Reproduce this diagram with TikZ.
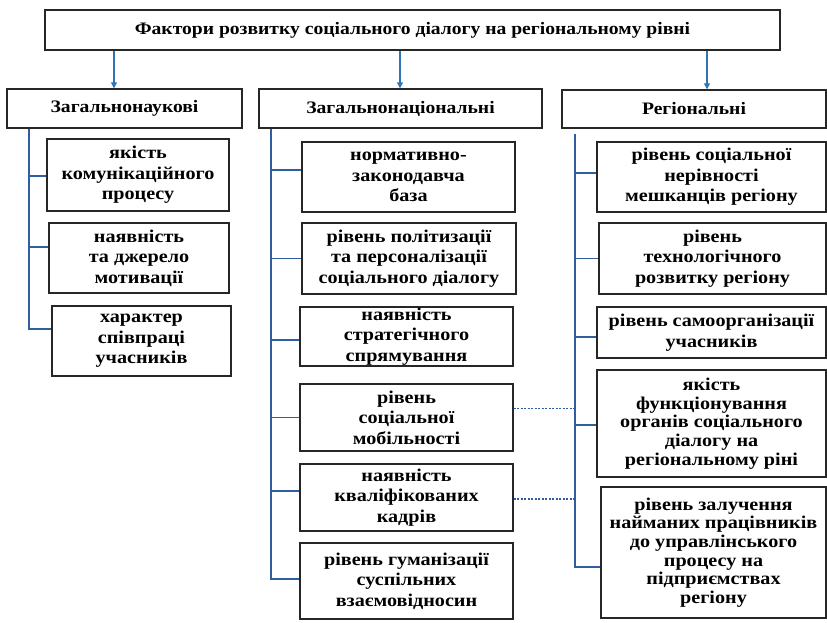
\documentclass[tikz,border=0pt]{standalone}
\usepackage{fontspec}
\setmainfont[FakeStretch=1.12]{Liberation Serif}
\usetikzlibrary{arrows.meta}
\definecolor{linkblue}{RGB}{47,95,160}
\definecolor{arrowblue}{RGB}{46,117,182}
\begin{document}
\begin{tikzpicture}[x=1pt,y=-1pt,
  box/.style={draw=black!85, line width=1.4pt, align=center, inner sep=0pt,
    font=\bfseries\fontsize{18}{20.5}\selectfont},
  tightbox/.style={box, font=\bfseries\fontsize{18}{18.6}\selectfont},
  headbox/.style={box, font=\bfseries\fontsize{17.5}{20}\selectfont},
  arr/.style={draw=arrowblue, line width=1.2pt, -{Triangle[length=6pt,width=6pt]}},
  link/.style={draw=linkblue, line width=1.2pt},
  dotlink/.style={draw=linkblue, line width=1.2pt, dash pattern=on 2pt off 1.5pt}]
\useasboundingbox (0,0) rectangle (827,622);

% top and category boxes
\node[headbox, minimum width=735pt, minimum height=40pt] (top) at (412.5,30) {Фактори розвитку соціального діалогу на регіональному рівні};
\node[headbox, minimum width=235pt, minimum height=39pt] (c1) at (124.5,108.5) {Загальнонаукові};
\node[headbox, minimum width=283pt, minimum height=39pt] (c2) at (400.5,108.5) {Загальнонаціональні};
\node[headbox, minimum width=264pt, minimum height=38pt] (c3) at (694,109) {Регіональні};

\coordinate (a1) at (114,0);
\coordinate (a2) at (400,0);
\coordinate (a3) at (707,0);
\draw[arr] (a1 |- top.south) -- (a1 |- c1.north);
\draw[arr] (a2 |- top.south) -- (a2 |- c2.north);
\draw[arr] (a3 |- top.south) -- (a3 |- c3.north);

% left column
\node[box, minimum width=182pt, minimum height=72pt] (l1) at (138,175) {якість\\комунікаційного\\процесу};
\node[box, minimum width=180pt, minimum height=70pt] (l2) at (139,258) {наявність\\та джерело\\мотивації};
\node[box, minimum width=179pt, minimum height=70pt] (l3) at (141.5,341) {характер\\співпраці\\учасників};

% middle column
\node[box, minimum width=213pt, minimum height=70pt] (m1) at (408.5,177) {нормативно-\\законодавча\\база};
\node[box, minimum width=214pt, minimum height=71pt] (m2) at (409,258.5) {рівень політизації\\та персоналізації\\соціального діалогу};
\node[box, minimum width=213pt, minimum height=59pt] (m3) at (406.5,336.5) {наявність\\стратегічного\\спрямування};
\node[box, minimum width=213pt, minimum height=67pt] (m4) at (406.5,417.5) {рівень\\соціальної\\мобільності};
\node[box, minimum width=213pt, minimum height=67pt] (m5) at (406.5,497.5) {наявність\\кваліфікованих\\кадрів};
\node[box, minimum width=213pt, minimum height=76pt] (m6) at (406.5,581) {рівень гуманізації\\суспільних\\взаємовідносин};

% right column
\node[box, minimum width=229pt, minimum height=70pt] (r1) at (711.5,177) {рівень соціальної\\нерівності\\мешканців регіону};
\node[box, minimum width=227pt, minimum height=71pt] (r2) at (712.5,258.5) {рівень\\технологічного\\розвитку регіону};
\node[box, minimum width=229pt, minimum height=51pt] (r3) at (711.5,332.5) {рівень самоорганізації\\учасників};
\node[tightbox, minimum width=229pt, minimum height=107pt] (r4) at (711.5,423.5) {якість\\функціонування\\органів соціального\\діалогу на\\регіональному ріні};
\node[tightbox, minimum width=225pt, minimum height=131pt] (r5) at (713.5,552.5) {рівень залучення\\найманих працівників\\до управлінського\\процесу на\\підприємствах\\регіону};

% trunks
\coordinate (t1) at (29,0);
\coordinate (t2) at (271,0);
\coordinate (t3) at (575,0);

\draw[link] (t1 |- c1.south) -- ([yshift=12pt]t1 |- l3.west) -- ([yshift=12pt]l3.west);
\draw[link] ([yshift=-1pt]t1 |- l1.west) -- ([yshift=-1pt]l1.west);
\draw[link] ([yshift=11pt]t1 |- l2.west) -- ([yshift=11pt]l2.west);

\draw[link] (t2 |- c2.south) -- ([yshift=2pt]t2 |- m6.west) -- ([yshift=2pt]m6.west);
\draw[link] ([yshift=7pt]t2 |- m1.west) -- ([yshift=7pt]m1.west);
\draw[link] (t2 |- m2.west) -- (m2.west);
\draw[link] ([yshift=-3.5pt]t2 |- m3.west) -- ([yshift=-3.5pt]m3.west);
\draw[link] (t2 |- m4.west) -- (m4.west);
\draw[link] ([yshift=6.5pt]t2 |- m5.west) -- ([yshift=6.5pt]m5.west);

\draw[link] ([yshift=-5pt]t3 |- c3.south) -- ([yshift=-14.5pt]t3 |- r5.west) -- ([yshift=-14.5pt]r5.west);
\draw[link] ([yshift=4pt]t3 |- r1.west) -- ([yshift=4pt]r1.west);
\draw[link] (t3 |- r2.west) -- (r2.west);
\draw[link] ([yshift=-4.5pt]t3 |- r3.west) -- ([yshift=-4.5pt]r3.west);
\draw[link] ([yshift=-1.5pt]t3 |- r4.west) -- ([yshift=-1.5pt]r4.west);

% dotted cross links
\draw[dotlink] ([yshift=9pt]m4.east) -- ([yshift=9pt]t3 |- m4.east);
\draw[dotlink] ([yshift=-1.5pt]m5.east) -- ([yshift=-1.5pt]t3 |- m5.east);
\end{tikzpicture}
\end{document}
